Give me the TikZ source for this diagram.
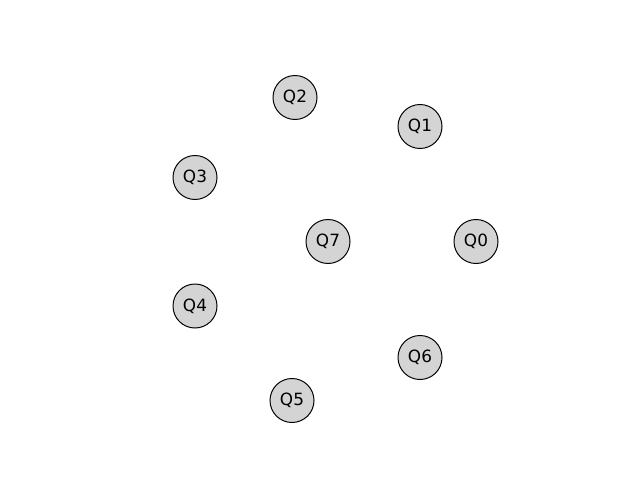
\documentclass[tikz,border=0pt]{standalone}
\usepackage{fontspec}
\setmainfont{DejaVu Sans}
\usetikzlibrary{positioning}

\begin{document}
\begin{tikzpicture}[x=0.025cm,y=-0.025cm]
  \tikzset{qubit/.style = {shape=circle,draw,fill=black!17,line width=0.7pt,minimum size=1.1cm,inner sep=1pt,font=\fontsize{12}{14}\selectfont}}
  \useasboundingbox (0,0) rectangle (640,480);
	\node[qubit] (Q0) at (476,241.5) {Q0};
	\node[qubit] (Q1) at (420,126.5) {Q1};
	\node[qubit] (Q2) at (295,97.5) {Q2};
	\node[qubit] (Q3) at (195,177.5) {Q3};
	\node[qubit] (Q4) at (195,306) {Q4};
	\node[qubit] (Q5) at (292,400.5) {Q5};
	\node[qubit] (Q6) at (420,357.5) {Q6};
	\node[qubit] (Q7) at (328,241.5) {Q7};
\end{tikzpicture}
\end{document}
